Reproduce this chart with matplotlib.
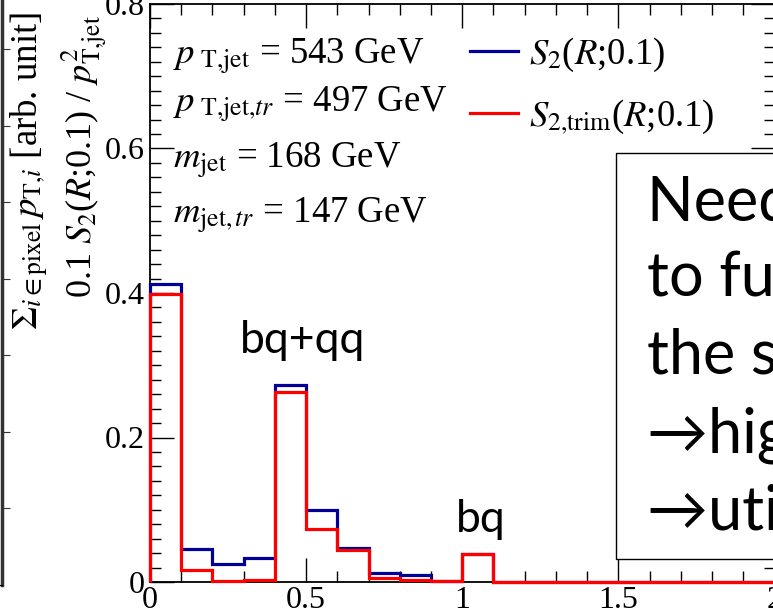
import numpy as np
import matplotlib
matplotlib.use('Agg')
import matplotlib.pyplot as plt
from matplotlib.patches import Rectangle
from matplotlib.ticker import MultipleLocator, FuncFormatter

plt.rcParams['font.family'] = ['Liberation Serif', 'DejaVu Serif']
plt.rcParams['mathtext.fontset'] = 'stix'

# bin edges 0..2 in steps of 0.1
edges = np.round(np.arange(0, 2.01, 0.1), 2)
s2 = [0.412, 0.046, 0.025, 0.033, 0.272, 0.099, 0.047, 0.012, 0.010, 0.002,
      0.039, 0, 0, 0, 0, 0, 0, 0, 0, 0]
s2_trim = [0.399, 0.016, 0.001, 0.003, 0.263, 0.074, 0.044, 0.005, 0.003, 0.001,
           0.039, 0, 0, 0, 0, 0, 0, 0, 0, 0]

info_lines = [r'$p_{\ \mathrm{T{,}jet}}$ = 543 GeV',
              r'$p_{\ \mathrm{T{,}jet{,}}tr}$ = 497 GeV',
              r'$m_{\mathrm{jet}}$ = 168 GeV',
              r'$m_{\mathrm{jet{,}}\,tr}$ = 147 GeV']
info_base = [64, 112, 168, 223]

box_lines = ['Need to go beyond', 'to fully exploit', 'the substructure',
             '\u2192higher resolution', '\u2192utilize more info']
box_base = [220, 296, 373, 452, 530]

W, H = 773, 611
fig = plt.figure(figsize=(W / 100, H / 100), dpi=100)

def fx(px):
    return px / W

def fy(py):
    return 1 - py / H

# main axes, right side runs just off the picture
ax = fig.add_axes([fx(150), fy(582), fx(774.5 - 150), (582 - 4) / H])
ax.stairs(s2, edges, color='#000099', lw=2.3, baseline=0, label=r'$S_2$($R$;0.1)',
          clip_on=False, zorder=3)
ax.stairs(s2_trim, edges, color='#ff0000', lw=2.3, baseline=0,
          label=r'$S_{2{,}\mathrm{trim}}$($R$;0.1)', clip_on=False, zorder=3.1)
ax.set_xlim(0, 2)
ax.set_ylim(0, 0.8)
ax.xaxis.set_major_locator(MultipleLocator(0.5))
ax.xaxis.set_minor_locator(MultipleLocator(0.1))
ax.yaxis.set_major_locator(MultipleLocator(0.2))
ax.yaxis.set_minor_locator(MultipleLocator(0.02))
fmt = FuncFormatter(lambda v, p: '%g' % round(v, 3))
ax.xaxis.set_major_formatter(fmt)
ax.yaxis.set_major_formatter(fmt)
ax.tick_params(which='both', direction='in', top=True, right=True, labelsize=23,
               width=1)
ax.tick_params(which='major', length=17)
ax.tick_params(which='minor', length=8)
ax.tick_params(axis='y', pad=4)
ax.tick_params(axis='x', pad=3)
for sp in ax.spines.values():
    sp.set_linewidth(1.3)

leg = ax.legend(loc='upper left', bbox_to_anchor=(fx(470), fy(36)),
                bbox_transform=fig.transFigure, frameon=False, fontsize=26.5,
                handlelength=1.3, handletextpad=0.3, labelspacing=0.62,
                borderpad=0, borderaxespad=0)

for t, b in zip(info_lines, info_base):
    fig.text(fx(173), fy(b), t, fontsize=26.5, va='baseline', ha='left')

# y axis titles
fig.text(fx(30), fy(330),
         r'$\Sigma_{i\in\mathrm{pixel}}\,p_{\mathrm{T{,}}i}$ [arb. unit]',
         rotation=90, ha='center', va='bottom', fontsize=26.5)
fig.text(fx(85), fy(298),
         r'0.1 $S_2$($R$;0.1) / $p^2_{\mathrm{T{,}jet}}$',
         rotation=90, ha='center', va='bottom', fontsize=26)

sans = ['Lato', 'DejaVu Sans']
ax.text(0.49, 0.317, 'bq+qq', family=sans, fontsize=32, ha='center', va='baseline')
ax.text(1.06, 0.069, 'bq', family=sans, fontsize=32, ha='center', va='baseline')

# text box on the right
fig.add_artist(Rectangle((fx(616), fy(559)), 0.6, (559 - 153) / H,
                         transform=fig.transFigure, fc='white', ec='black',
                         lw=1, zorder=5))
for t, b in zip(box_lines, box_base):
    fig.text(fx(647), fy(b), t, family=sans, fontsize=44, va='baseline',
             ha='left', zorder=6)

# edge of the neighbouring panel on the left
axl = fig.add_axes([fx(-200), fy(585), fx(202), 585 / H + 0.02])
axl.set_ylim(0, 585)
axl.set_xticks([])
axl.yaxis.tick_right()
axl.set_yticks(np.arange(75, 585, 75))
axl.tick_params(axis='y', direction='out', length=6, labelright=False, color='#333333')
for k in ['left', 'top']:
    axl.spines[k].set_visible(False)
axl.spines['right'].set_linewidth(2.5)
axl.spines['right'].set_color('#333333')
axl.patch.set_visible(False)

fig.savefig('out.png', dpi=100)
